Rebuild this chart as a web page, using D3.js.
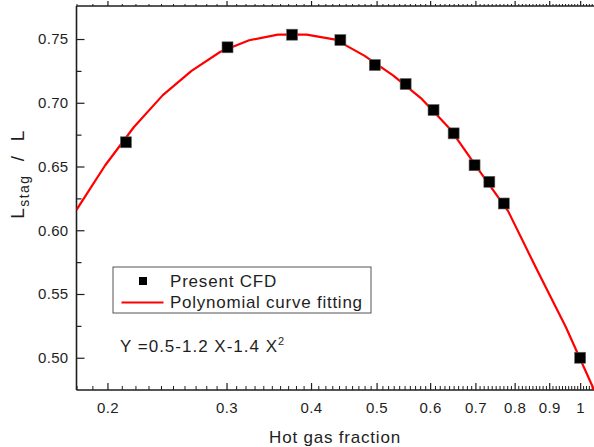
<!DOCTYPE html>
<html>
<head>
<meta charset="utf-8">
<script src="https://cdn.jsdelivr.net/npm/d3@7"></script>
<style>
  html, body { margin: 0; padding: 0; background: #fff; }
  svg { display: block; font-family: Arial, "Liberation Sans", Helvetica, sans-serif; }
</style>
</head>
<body>
<svg id="chart" width="594" height="447"></svg>
<script>
// ---- data ----
const cfdX = [0.213, 0.301, 0.375, 0.442, 0.497, 0.552, 0.607, 0.650, 0.698, 0.734, 0.771, 1.0];
const cfdY = [0.669, 0.7435, 0.7534, 0.7492, 0.7296, 0.7147, 0.6943, 0.676, 0.651, 0.638, 0.621, 0.500];

const fitX = [0.18, 0.1985, 0.2189, 0.2415, 0.2663, 0.2938, 0.3240, 0.3573, 0.3941, 0.4347,
              0.4795, 0.5288, 0.5832, 0.6432, 0.7096, 0.7825, 0.8632, 0.9519, 1.05];
const fitY = [0.616, 0.651, 0.681, 0.706, 0.725, 0.740, 0.749, 0.7535, 0.7535, 0.7495,
              0.737, 0.7215, 0.703, 0.679, 0.6465, 0.615, 0.569, 0.5243, 0.474];

const xMajorTicks = [0.2, 0.3, 0.4, 0.5, 0.6, 0.7, 0.8, 0.9, 1];
const xTickLabels = ["0.2", "0.3", "0.4", "0.5", "0.6", "0.7", "0.8", "0.9", "1"];
const xMinorTicks = d3.range(18, 106).map(d => d / 100).filter(v => Math.round(v * 100) % 10 !== 0);
const yMajorTicks = [0.50, 0.55, 0.60, 0.65, 0.70, 0.75];
const yMinorTicks = [0.525, 0.575, 0.625, 0.675, 0.725];

const legendLabels = ["Present CFD", "Polynomial curve fitting"];
const xTitle = "Hot gas fraction";

// ---- layout ----
const svg = d3.select("#chart");
const L = 76.5, R = 594.5, T = 6, B = 390;

const x = d3.scaleLog().domain([0.18, 1.05]).range([L, R]);
const y = d3.scaleLinear().domain([0.4747, 0.7759]).range([B, T]);

const ink = "#1e1e1e";

svg.append("defs").append("clipPath").attr("id", "plotclip")
  .append("rect").attr("x", L).attr("y", T).attr("width", R - L).attr("height", B - T);

// bottom axis (ticks inward)
const gx = svg.append("g").attr("transform", `translate(0,${B})`);
gx.call(d3.axisBottom(x).tickValues(xMajorTicks).tickSizeInner(-7).tickSizeOuter(0)
  .tickFormat((d, i) => xTickLabels[i]));
gx.selectAll(".tick text").attr("y", 12).attr("dy", "0.71em")
  .style("font-size", "15px").style("letter-spacing", "0.4px").attr("fill", ink);
gx.selectAll(".tick line").attr("stroke", ink).attr("stroke-width", 1.2);
gx.select(".domain").remove();
const gxm = svg.append("g").attr("transform", `translate(0,${B})`);
gxm.call(d3.axisBottom(x).tickValues(xMinorTicks).tickSizeInner(-4).tickSizeOuter(0).tickFormat(""));
gxm.selectAll(".tick line").attr("stroke", ink).attr("stroke-width", 1);
gxm.select(".domain").remove();

// top axis (ticks outward)
const gt = svg.append("g").attr("transform", `translate(0,${T})`);
gt.call(d3.axisTop(x).tickValues(xMajorTicks).tickSizeInner(5).tickSizeOuter(0).tickFormat(""));
gt.selectAll(".tick line").attr("stroke", ink).attr("stroke-width", 1.2);
gt.select(".domain").remove();
const gtm = svg.append("g").attr("transform", `translate(0,${T})`);
gtm.call(d3.axisTop(x).tickValues(xMinorTicks).tickSizeInner(2).tickSizeOuter(0).tickFormat(""));
gtm.selectAll(".tick line").attr("stroke", ink).attr("stroke-width", 1);
gtm.select(".domain").remove();

// left axis (ticks inward)
const gy = svg.append("g").attr("transform", `translate(${L},0)`);
gy.call(d3.axisLeft(y).tickValues(yMajorTicks).tickSizeInner(-8).tickSizeOuter(0)
  .tickFormat(d3.format(".2f")));
gy.selectAll(".tick text").attr("x", -8).style("font-size", "15px").style("letter-spacing", "0.3px").attr("fill", ink);
gy.selectAll(".tick line").attr("stroke", ink).attr("stroke-width", 1.2);
gy.select(".domain").remove();
const gym = svg.append("g").attr("transform", `translate(${L},0)`);
gym.call(d3.axisLeft(y).tickValues(yMinorTicks).tickSizeInner(-5).tickSizeOuter(0).tickFormat(""));
gym.selectAll(".tick line").attr("stroke", ink).attr("stroke-width", 1.2);
gym.select(".domain").remove();

// frame lines
svg.append("line").attr("x1", L).attr("x2", L).attr("y1", T).attr("y2", B)
  .attr("stroke", ink).attr("stroke-width", 1.6);
svg.append("line").attr("x1", L).attr("x2", R).attr("y1", B).attr("y2", B)
  .attr("stroke", ink).attr("stroke-width", 1.6);
svg.append("line").attr("x1", L).attr("x2", R).attr("y1", T).attr("y2", T)
  .attr("stroke", ink).attr("stroke-width", 1.6);

// fitted curve
const fitData = fitX.map((v, i) => [v, fitY[i]]);
svg.append("path").datum(fitData)
  .attr("clip-path", "url(#plotclip)")
  .attr("fill", "none").attr("stroke", "#ff0000").attr("stroke-width", 2.2)
  .attr("stroke-linejoin", "round")
  .attr("d", d3.line().x(d => x(d[0])).y(d => y(d[1])));

// CFD points
const sq = 11;
svg.append("g").selectAll("rect").data(cfdX.map((v, i) => [v, cfdY[i]])).join("rect")
  .attr("x", d => x(d[0]) - sq / 2).attr("y", d => y(d[1]) - sq / 2)
  .attr("width", sq).attr("height", sq)
  .attr("fill", "#000").attr("stroke", "#666").attr("stroke-width", 0.6);

// legend
const lg = svg.append("g");
lg.append("rect").attr("x", 113).attr("y", 267).attr("width", 258).attr("height", 46)
  .attr("fill", "#fff").attr("stroke", "#555").attr("stroke-width", 1);
lg.append("rect").attr("x", 139).attr("y", 277).attr("width", 8).attr("height", 8).attr("fill", "#000");
lg.append("line").attr("x1", 121.5).attr("x2", 163.5).attr("y1", 302.5).attr("y2", 302.5)
  .attr("stroke", "#ff0000").attr("stroke-width", 2);
lg.append("text").attr("x", 170).attr("y", 286.7).text(legendLabels[0])
  .style("font-size", "17px").style("letter-spacing", "0.8px").attr("fill", ink);
lg.append("text").attr("x", 170).attr("y", 308.3).text(legendLabels[1])
  .style("font-size", "17px").style("letter-spacing", "0.75px").attr("fill", ink);

// equation
const eq = svg.append("text").attr("x", 120).attr("y", 351.7).style("font-size", "17px")
  .style("letter-spacing", "1px").attr("fill", ink);
eq.append("tspan").text("Y =0.5-1.2 X-1.4 X");
eq.append("tspan").attr("dy", -7).style("font-size", "11px").text("2");

// axis titles
svg.append("text").attr("x", 335).attr("y", 443).attr("text-anchor", "middle")
  .style("font-size", "17px").style("letter-spacing", "0.8px").attr("fill", ink).text(xTitle);

const yt = svg.append("text").attr("transform", "translate(23.5,174) rotate(-90)")
  .attr("text-anchor", "middle").style("font-size", "19px").style("letter-spacing", "1.4px")
  .attr("fill", ink).attr("xml:space", "preserve");
yt.append("tspan").text("L");
yt.append("tspan").attr("dy", 5).style("font-size", "14px").text("stag");
yt.append("tspan").attr("dy", -5).text("  /  L");
</script>
</body>
</html>
